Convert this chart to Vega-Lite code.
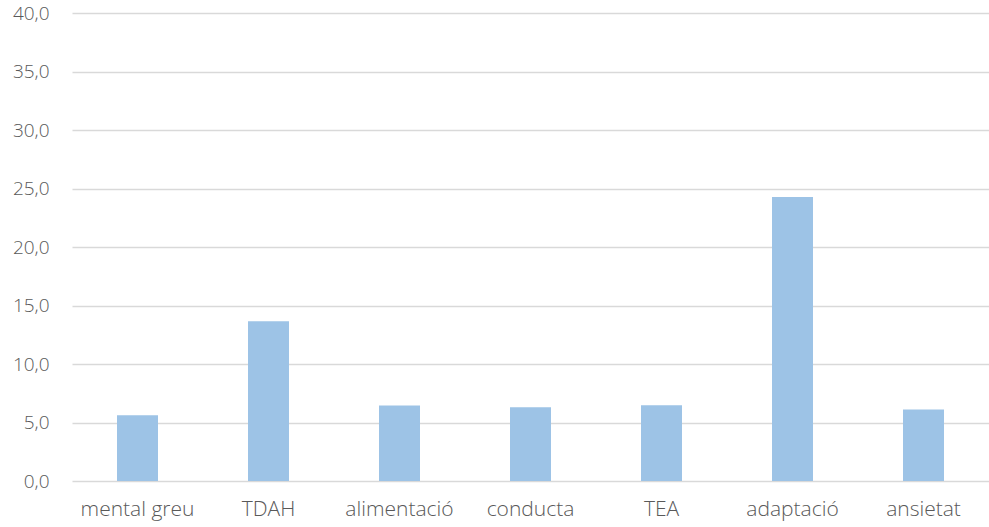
{
  "$schema": "https://vega.github.io/schema/vega-lite/v6.json",
  "autosize": {"type": "none"},
  "padding": {"left": 72, "top": 13, "right": 0, "bottom": 46},
  "width": 917,
  "height": 468,
  "background": "white",
  "data": {
    "values": [
      {"cat": "mental greu", "val": 5.63},
      {"cat": "TDAH", "val": 13.65},
      {"cat": "alimentació", "val": 6.46},
      {"cat": "conducta", "val": 6.31},
      {"cat": "TEA", "val": 6.48},
      {"cat": "adaptació", "val": 24.27},
      {"cat": "ansietat", "val": 6.12}
    ]
  },
  "mark": {"type": "bar", "color": "#9dc3e6"},
  "encoding": {
    "x": {
      "field": "cat", "type": "nominal", "sort": null,
      "scale": {"paddingInner": 0.687, "paddingOuter": 0.3435},
      "axis": {"title": null, "labelAngle": 0, "ticks": false, "domain": false,
               "labelPadding": 17, "labelFontSize": 21, "labelColor": "#595959",
               "labelFont": "Open Sans", "labelFontWeight": 300}
    },
    "y": {
      "field": "val", "type": "quantitative",
      "scale": {"domain": [0, 40], "nice": false},
      "axis": {"title": null, "values": [0,5,10,15,20,25,30,35,40], "format": ".1f",
               "ticks": false, "domain": false, "labelPadding": 23,
               "labelFontSize": 19, "labelColor": "#595959", "labelFont": "Open Sans", "labelFontWeight": 300,
               "gridColor": "#d9d9d9", "gridWidth": 1.3}
    }
  },
  "config": {
    "view": {"stroke": null},
    "locale": {"number": {"decimal": ",", "thousands": ".", "grouping": [3], "currency": ["", " €"]}}
  }
}
